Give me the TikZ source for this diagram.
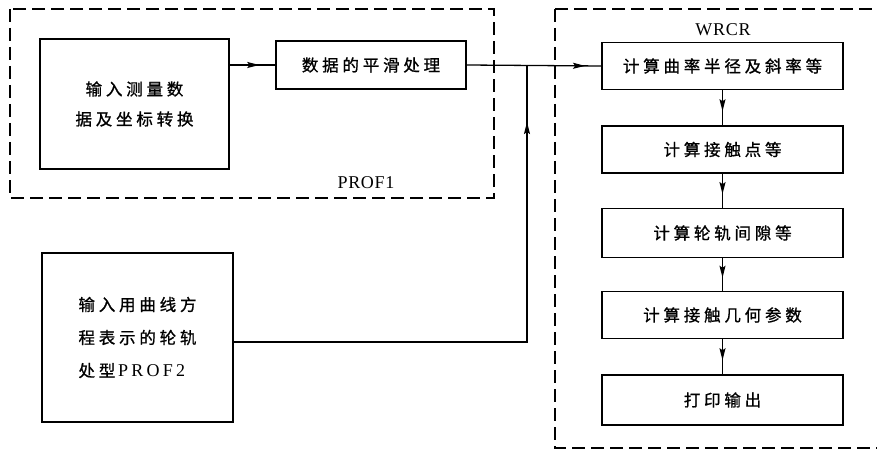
\documentclass[tikz,border=0pt]{standalone}
\usepackage{fontspec}
\setmainfont{Liberation Serif}
\newfontfamily\cjk[LetterSpace=23,FakeBold=1]{Noto Sans CJK SC}
\newfontfamily\lat[LetterSpace=4]{Liberation Serif}
\newfontfamily\latw[LetterSpace=18]{Liberation Serif}
\usetikzlibrary{arrows.meta,decorations.markings}
\begin{document}
\begin{tikzpicture}[x=1pt,y=-1pt,
  box/.style={draw,line width=1.6pt,inner sep=0pt,font=\cjk\fontsize{16.5}{30}\selectfont},
  frame/.style={draw,line width=1.2pt,dash pattern=on 13pt off 6pt},
  wire/.style={line width=1.3pt},
  midarrow/.style={postaction={decorate},decoration={markings,
    mark=at position #1 with {\arrow{Stealth[length=12pt,width=6pt,inset=2pt]}}}},
  lbl/.style={font=\lat\fontsize{18}{20}\selectfont}]
\useasboundingbox (0,0) rectangle (877,457);
% frames
\draw[frame] (10,9) rectangle (494,198);
\draw[frame] (555,9) -- (555,448) -- (895,448);
\draw[frame] (555,9) -- (895,9);
\node[lbl] (lp1) at (366,183) {PROF1};
\node[lbl] (lw) at (723,30) {WRCR};
% left boxes
\node[box,minimum width=189pt,minimum height=130pt,align=center] (b1) at (134.5,104)
  {输入测量数\\据及坐标转换};
\node[box,minimum width=190pt,minimum height=48pt] (b2) at (371,65) {数据的平滑处理};
\node[box,minimum width=191pt,minimum height=169pt,align=left,font=\cjk\fontsize{16.5}{33}\selectfont] (p2) at (137.5,337.5)
  {输入用曲线方\\程表示的轮轨\\处型\,{\latw\fontsize{18}{33}\selectfont PROF2}};
% right boxes
\node[box,minimum width=241pt,minimum height=47pt] (w1) at (722.5,66) {计算曲率半径及斜率等};
\node[box,minimum width=241pt,minimum height=47pt] (w2) at (722.5,149.5) {计算接触点等};
\node[box,minimum width=241pt,minimum height=49pt] (w3) at (722.5,233) {计算轮轨间隙等};
\node[box,minimum width=241pt,minimum height=47pt] (w4) at (722.5,315) {计算接触几何参数};
\node[box,minimum width=241pt,minimum height=50pt] (w5) at (722.5,400) {打印输出};
% connectors
\coordinate (J) at (527,65);
\coordinate (c) at (527,342);
\draw[wire,midarrow=0.65] (b1.east |- b2.west) -- (b2.west);
\draw[wire,midarrow=0.88] (b2.east) -- (w1.west);
\draw[wire,midarrow=0.9] (p2.east |- c) -- (c) -- (J);
\draw[wire,midarrow=0.6] (w1) -- (w2);
\draw[wire,midarrow=0.6] (w2) -- (w3);
\draw[wire,midarrow=0.6] (w3) -- (w4);
\draw[wire,midarrow=0.6] (w4) -- (w5);
\end{tikzpicture}
\end{document}
